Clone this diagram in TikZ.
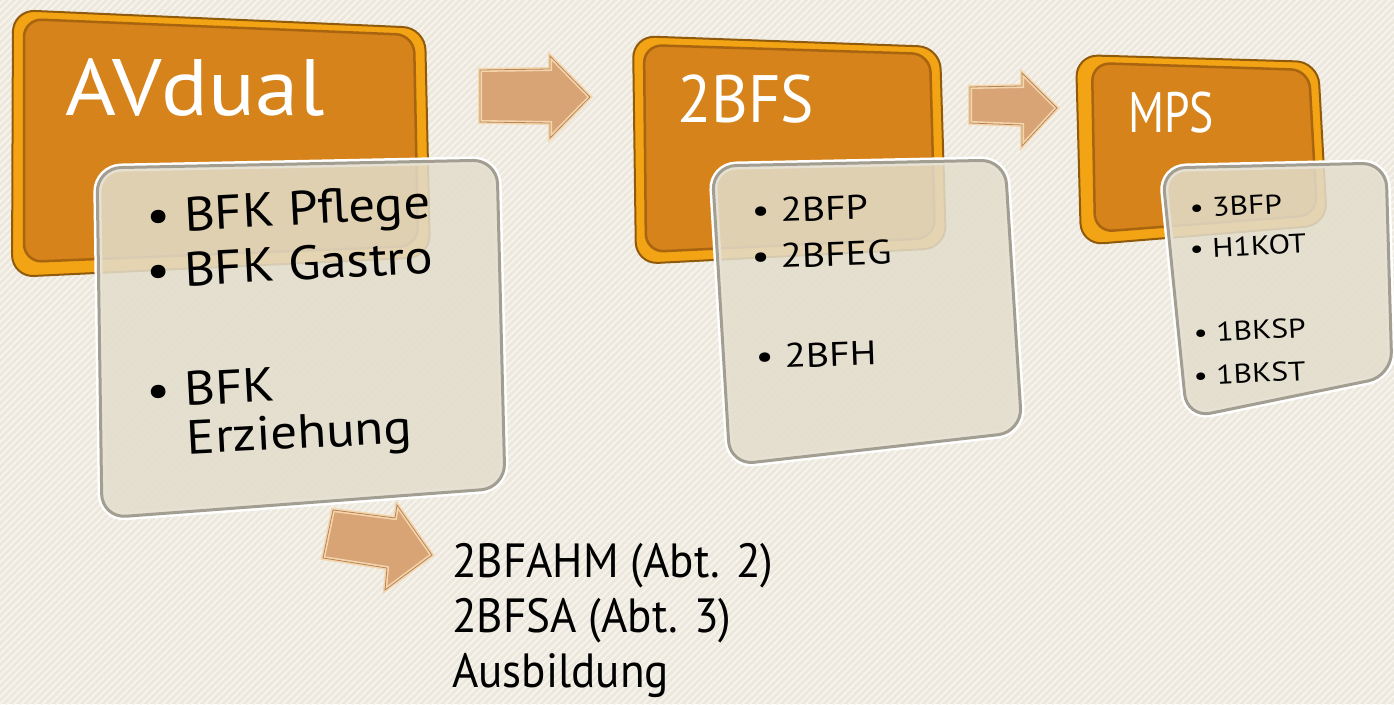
\documentclass[tikz,border=0pt]{standalone}
\usepackage{graphicx}
\usepackage{fontspec}
\setmainfont{PT Sans}
\usetikzlibrary{patterns.meta}
\definecolor{bg}{HTML}{EDE8DE}
\definecolor{stripe}{HTML}{F8F5EF}
\definecolor{orRim}{HTML}{F2A414}
\definecolor{orFace}{HTML}{D5831A}
\definecolor{orDark}{HTML}{8F5A0C}
\definecolor{orShade}{HTML}{A9640F}
\definecolor{gFace}{HTML}{E2DDCC}
\definecolor{gEdge}{HTML}{A29E91}
\definecolor{arFace}{HTML}{D8A476}
\definecolor{arRim}{HTML}{F4D6AE}
\definecolor{arEdge}{HTML}{B88456}
\newcommand{\hs}[2]{\scalebox{#1}[1]{#2}}
\tikzset{
  orouter/.style={fill=orRim, draw=orDark, line width=2pt, rounded corners=22pt},
  orinner/.style={fill=orFace, draw=orShade, line width=2.5pt, rounded corners=18pt},
  gglow/.style={draw=white, line width=8pt, rounded corners=24pt},
  gbox/.style={fill=gFace, fill opacity=0.86, draw=gEdge, line width=3pt, rounded corners=24pt},
  blockarrow/.style={fill=arFace, draw=arRim, line width=4pt, line join=miter},
  blockedge/.style={draw=arEdge, line width=0.8pt, line join=miter},
  title/.style={anchor=base west, text=white, inner sep=0pt},
  item/.style={anchor=base west, text=black, inner sep=0pt},
}
\begin{document}
\begin{tikzpicture}[x=1pt,y=-1pt]
\useasboundingbox (0,0) rectangle (1394,704);
% background
\fill[bg] (0,0) rectangle (1394,704);
\fill[pattern={Lines[angle=45,distance=5pt,line width=1.6pt]}, pattern color=stripe] (0,0) rectangle (1394,704);

% ---------- block 1 ----------
\draw[orouter] (13,10) -- (425,28) -- (430,257) -- (12,277) -- cycle;
\draw[orinner] (24,19) -- (414,35) -- (418,246) -- (24,262) -- cycle;
\node[title, font=\fontsize{80}{82}\selectfont] (t1) at (65,115) {\hs{1.09}{AVdual}};

% ---------- arrow 1 ----------
\draw[blockarrow] (480,70) -- (550,69) -- (550,56) -- (590,97) -- (550,138) -- (550,123) -- (480,122) -- cycle;
\draw[blockedge] (480,70) -- (550,69) -- (550,56) -- (590,97) -- (550,138) -- (550,123) -- (480,122) -- cycle;

% ---------- block 2 ----------
\draw[orouter] (633,36) -- (940,47) -- (946,248) -- (636,264) -- cycle;
\draw[orinner] (644,45) -- (930,54) -- (935,238) -- (646,252) -- cycle;
\node[title, font=\fontsize{67}{70}\selectfont] (t2) at (677,122) {\hs{0.94}{2BFS}};

% ---------- arrow 2 ----------
\draw[blockarrow] (970,87) -- (1022,86) -- (1022,73) -- (1057,108) -- (1022,146) -- (1022,125) -- (970,123) -- cycle;
\draw[blockedge] (970,87) -- (1022,86) -- (1022,73) -- (1057,108) -- (1022,146) -- (1022,125) -- (970,123) -- cycle;

% ---------- block 3 ----------
\draw[orouter] (1076,55) -- (1318,62) -- (1327,225) -- (1081,245) -- cycle;
\draw[orinner] (1092,63) -- (1309,70) -- (1317,215) -- (1095,232) -- cycle;
\node[title, font=\fontsize{57}{60}\selectfont] (t3) at (1128,132) {\hs{0.8}{MPS}};

% ---------- grey box 1 ----------
\draw[gglow] (97,168) -- (497,160) -- (505,488) -- (102,518) -- cycle;
\draw[gbox] (97,168) -- (497,160) -- (505,488) -- (102,518) -- cycle;
\begin{scope}[every node/.style={item, font=\fontsize{48}{48}\selectfont, rotate=3}]
\node (b1a) at (147,233) {\hs{1.1}{• BFK Pflege}};
\node (b1b) at (147,288) {\hs{1.1}{• BFK Gastro}};
\node (b1c) at (147,408) {\hs{1.1}{\begin{tabular}[t]{@{}l@{\hspace{0.27em}}l@{}}•&BFK\\&Erziehung\end{tabular}}};
\end{scope}

% ---------- grey box 2 ----------
\draw[gglow] (712,166) -- (1005,160) -- (1022,432) -- (730,465) -- cycle;
\draw[gbox] (712,166) -- (1005,160) -- (1022,432) -- (730,465) -- cycle;
\begin{scope}[every node/.style={item, font=\fontsize{34}{36}\selectfont, rotate=2}]
\node (b2a) at (752,223) {\hs{1.17}{• 2BFP}};
\node (b2b) at (752,269) {\hs{1.17}{• 2BFEG}};
\node (b2c) at (756,369) {\hs{1.17}{• 2BFH}};
\end{scope}

% ---------- grey box 3 ----------
\draw[gglow] (1162,168) -- (1386,163) -- (1392,376) -- (1187,418) -- cycle;
\draw[gbox] (1162,168) -- (1386,163) -- (1392,376) -- (1187,418) -- cycle;
\begin{scope}[every node/.style={item, font=\fontsize{27}{29}\selectfont, rotate=3}]
\node (b3a) at (1190,218) {\hs{1.17}{• 3BFP}};
\node (b3b) at (1190,259) {\hs{1.17}{• H1KOT}};
\node (b3c) at (1194,343) {\hs{1.17}{• 1BKSP}};
\node (b3d) at (1194,386) {\hs{1.17}{• 1BKST}};
\end{scope}

% ---------- arrow 3 ----------
\draw[blockarrow] (333,510) -- (395,518) -- (397,505) -- (432,555) -- (385,590) -- (387,568) -- (323,558) -- cycle;
\draw[blockedge] (333,510) -- (395,518) -- (397,505) -- (432,555) -- (385,590) -- (387,568) -- (323,558) -- cycle;

% ---------- bottom text ----------
\node[item, font=\fontsize{48}{55}\selectfont, align=left, anchor=north west] (bt) at (452,543)
  {\hs{0.94}{2BFAHM (Abt. 2)}\\\hs{0.94}{2BFSA (Abt. 3)}\\\hs{0.94}{Ausbildung}};
\end{tikzpicture}
\end{document}
